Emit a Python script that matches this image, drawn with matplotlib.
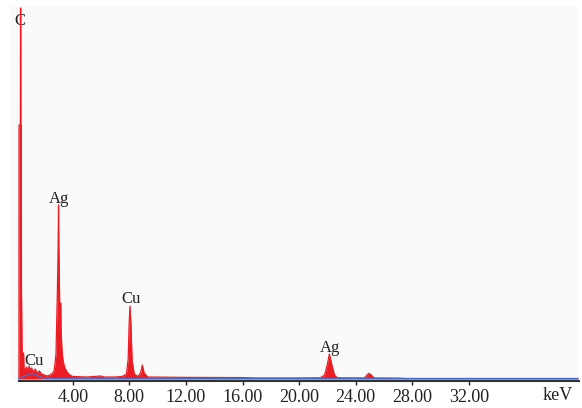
import matplotlib
matplotlib.use("Agg")
import matplotlib.pyplot as plt

# spectrum (keV, counts)
energy = [0.20, 0.21, 0.30, 0.31, 0.33, 0.34, 0.36, 0.38, 0.42, 0.46, 0.50, 0.53,
          0.56, 0.65, 0.75, 0.85, 0.93, 1.00, 1.10, 1.20, 1.35, 1.50, 1.65, 1.80,
          2.00, 2.20, 2.40, 2.60, 2.70, 2.82, 2.92, 2.97, 3.00, 3.02, 3.05, 3.09,
          3.13, 3.15, 3.18, 3.24, 3.32, 3.45, 3.60, 3.80, 4.00, 5.00, 6.00, 6.20,
          7.00, 7.50, 7.80, 7.92, 7.99, 8.05, 8.11, 8.20, 8.35, 8.60, 8.80, 8.92,
          9.05, 9.30, 12.0, 16.0, 17.0, 20.0, 21.5, 21.8, 22.0, 22.14, 22.3, 22.5,
          22.7, 24.6, 24.8, 24.94, 25.1, 25.3, 27.0, 27.5, 30.0, 34.0, 39.7]
counts = [0, 2540, 2540, 3710, 3710, 2540, 2540, 900, 300, 120, 260, 260,
          110, 90, 120, 80, 130, 90, 110, 70, 100, 60, 80, 50,
          40, 30, 40, 60, 90, 250, 900, 1320, 1740, 1320, 1100, 600,
          520, 760, 480, 300, 180, 110, 70, 40, 25, 20, 30, 20,
          20, 25, 50, 200, 560, 730, 560, 180, 50, 25, 60, 140,
          60, 20, 16, 14, 10, 10, 12, 40, 150, 250, 150, 40,
          12, 10, 40, 57, 40, 10, 8, 4, 3, 3, 3]

# background fit (blue)
bg_energy = [0.20, 0.60, 1.10, 1.50, 1.90, 3.00, 39.7]
bg_counts = [5, 30, 57, 35, 10, 5, 5]

# peak labels
peak_names = ["C", "Cu", "Ag", "Cu", "Ag"]
peak_x = [0.26, 1.26, 3.03, 8.12, 22.22]
peak_y = [3540, 140, 1763, 763, 273]

ticks = [4, 8, 12, 16, 20, 24, 28, 32]

plt.rcParams['font.family'] = ['Liberation Serif', 'DejaVu Serif']

fig = plt.figure(figsize=(5.82, 4.08), dpi=100)
ax = fig.add_axes([11 / 582, 27 / 408, 568 / 582, 375 / 408])
ax.set_facecolor('#fafafa')

red = '#ec1c24'
ax.fill_between(energy, counts, 0, color=red, linewidth=0, zorder=3)
ax.plot(energy, counts, color=red, lw=0.9, zorder=3)
ax.plot(bg_energy, bg_counts, color='#4a6cc4', lw=1.0, zorder=4)

for name, x, y in zip(peak_names, peak_x, peak_y):
    ax.text(x, y, name, ha='center', va='baseline', fontsize=12,
            color='#222222', zorder=2)

ax.set_xlim(-0.36, 39.78)
ax.set_ylim(-20, 3730)

for s in ['top', 'right', 'left']:
    ax.spines[s].set_visible(False)
ax.spines['bottom'].set_bounds(0.2, 39.78)
ax.spines['bottom'].set_linewidth(1.5)
ax.spines['bottom'].set_color('#333333')

ax.set_yticks([])
ax.set_xticks(ticks)
ax.set_xticklabels([f"{t:.2f}" for t in ticks])
ax.tick_params(axis='x', direction='out', length=3, width=1, pad=3,
               labelsize=13, colors='#222222')

fig.text(558 / 582, 1 - 396 / 408, "keV", ha='center', va='center',
         fontsize=13, color='#222222')

fig.savefig("out.png", dpi=100, facecolor='white')
